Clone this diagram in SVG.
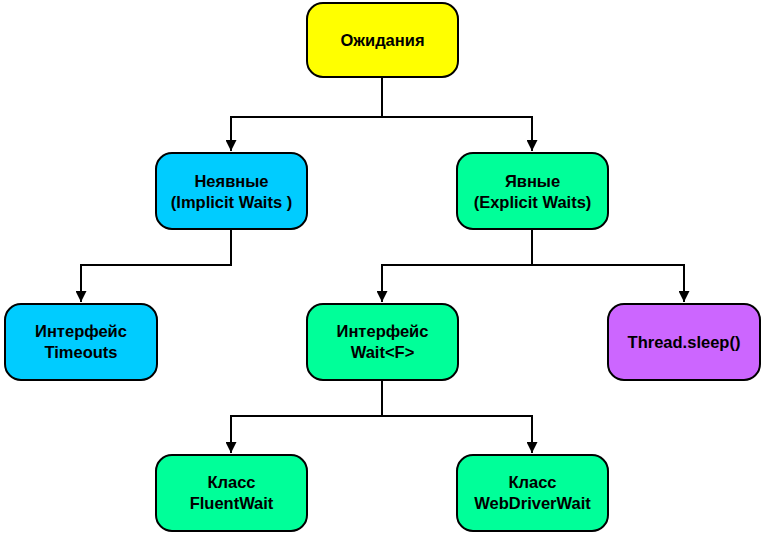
<svg xmlns="http://www.w3.org/2000/svg" width="766" height="539" viewBox="0 0 766 539">
<defs>
<marker id="arr" viewBox="0 0 10 10" refX="10" refY="5" markerWidth="5.5" markerHeight="5.5" orient="auto" markerUnits="strokeWidth">
<path d="M0,0 L10,5 L0,10 Z" fill="#000"/>
</marker>
<style>
.box{stroke:#000;stroke-width:2}
.y{fill:#FFFF00}.c{fill:#00CCFF}.g{fill:#00FF99}.p{fill:#CC66FF}
text{font-family:"Liberation Sans",Arial,sans-serif;font-weight:bold;font-size:16.5px;fill:#000;text-anchor:middle}
.con{fill:none;stroke:#000;stroke-width:2}
</style>
</defs>
<rect width="766" height="539" fill="#fff"/>
<g id="connectors">
<path class="con" d="M382,77 V117 H231 V151" marker-end="url(#arr)"/>
<path class="con" d="M382,117 H532 V151" marker-end="url(#arr)"/>
<path class="con" d="M231,229 V265 H81 V302" marker-end="url(#arr)"/>
<path class="con" d="M532,229 V265 H382 V302" marker-end="url(#arr)"/>
<path class="con" d="M532,265 H684 V302" marker-end="url(#arr)"/>
<path class="con" d="M382,380 V416 H231 V453" marker-end="url(#arr)"/>
<path class="con" d="M382,416 H532 V453" marker-end="url(#arr)"/>
</g>
<g id="root"><rect class="box y" x="307" y="3" width="151" height="74" rx="16"/><text x="382.5" y="46">Ожидания</text></g>
<g id="implicit"><rect class="box c" x="156" y="153" width="151" height="76" rx="16"/><text x="231.5" y="187">Неявные</text><text x="231.5" y="208">(Implicit Waits )</text></g>
<g id="explicit"><rect class="box g" x="457" y="153" width="151" height="76" rx="16"/><text x="532.5" y="187">Явные</text><text x="532.5" y="208">(Explicit Waits)</text></g>
<g id="timeouts"><rect class="box c" x="5" y="304" width="152" height="76" rx="16"/><text x="81" y="337">Интерфейс</text><text x="81" y="358">Timeouts</text></g>
<g id="wait"><rect class="box g" x="307" y="304" width="151" height="76" rx="16"/><text x="382.5" y="337">Интерфейс</text><text x="382.5" y="358">Wait&lt;F&gt;</text></g>
<g id="sleep"><rect class="box p" x="608" y="304" width="152" height="76" rx="16"/><text x="684" y="348">Thread.sleep()</text></g>
<g id="fluent"><rect class="box g" x="156" y="455" width="151" height="76" rx="16"/><text x="231.5" y="488">Класс</text><text x="231.5" y="509">FluentWait</text></g>
<g id="webdriver"><rect class="box g" x="457" y="455" width="151" height="76" rx="16"/><text x="532.5" y="488">Класс</text><text x="532.5" y="509">WebDriverWait</text></g>
</svg>
